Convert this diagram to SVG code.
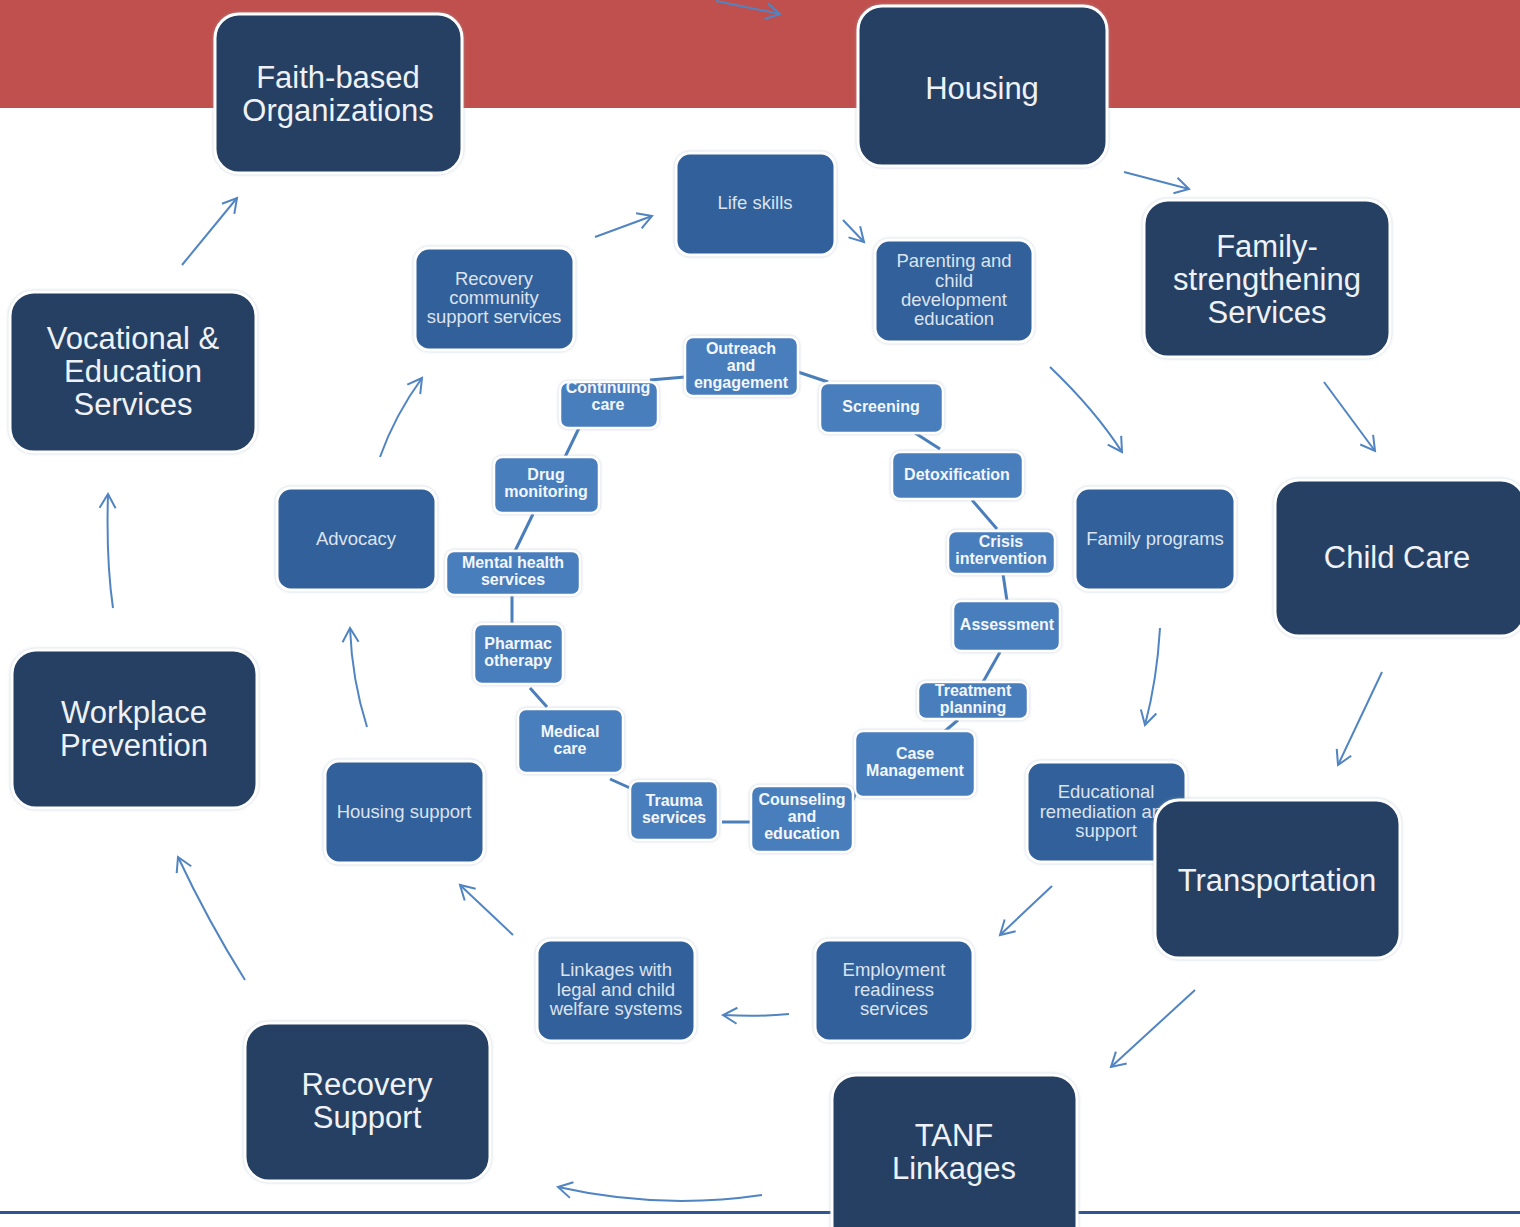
<svg xmlns="http://www.w3.org/2000/svg" width="1520" height="1227" viewBox="0 0 1520 1227">
<defs>
<style>
.outer{fill:#253F63;stroke:#fff;stroke-width:3;filter:url(#sh)}
.mid{fill:#32609A;stroke:#fff;stroke-width:3;filter:url(#sh)}
.inn{fill:#4A7EBD;stroke:#fff;stroke-width:2.5;filter:url(#sh)}
.to{font-family:"Liberation Sans",Arial,sans-serif;font-size:31px;fill:#EEF2F7;text-anchor:middle}
.tm{font-family:"Liberation Sans",Arial,sans-serif;font-size:18.5px;fill:#DCE3EE;text-anchor:middle}
.ti{font-family:"Liberation Sans",Arial,sans-serif;font-size:16px;font-weight:bold;fill:#F3F6FA;text-anchor:middle}
.arr{fill:none;stroke:#5084C2;stroke-width:2;marker-end:url(#ah)}
.lnk{fill:none;stroke:#4A7EBB;stroke-width:3}
</style>
<filter id="sh" x="-10%" y="-10%" width="120%" height="120%">
<feDropShadow dx="0" dy="0" stdDeviation="1.5" flood-color="#9AA8B8" flood-opacity="0.6"/>
</filter>
<marker id="ah" viewBox="0 0 20 20" refX="17" refY="10" markerWidth="20" markerHeight="20" markerUnits="userSpaceOnUse" orient="auto">
<path d="M3,2 L17,10 L3,18" fill="none" stroke="#5084C2" stroke-width="2"/>
</marker>
<clipPath id="ccclip"><rect x="560" y="382" width="98" height="46" rx="8"/></clipPath>
</defs>

<rect x="0" y="0" width="1520" height="1227" fill="#fff"/>
<rect x="0" y="0" width="1520" height="108" fill="#C0504D"/>
<rect x="0" y="1211" width="1520" height="3" fill="#2F5597"/>

<g id="connectors">
<path class="arr" d="M716,1 L780,14"/>
<path class="arr" d="M1124,172 L1189,189"/>
<path class="arr" d="M1324,382 L1375,451"/>
<path class="arr" d="M1382,672 L1338,765"/>
<path class="arr" d="M1195,990 L1111,1067"/>
<path class="arr" d="M762,1195 Q660,1210 558,1187"/>
<path class="arr" d="M245,980 Q208,921 178,857"/>
<path class="arr" d="M113,608 Q106,560 108,494"/>
<path class="arr" d="M182,265 L237,198"/>
<path class="arr" d="M595,237 L652,216"/>
<path class="arr" d="M843,220 L864,242"/>
<path class="arr" d="M1050,367 Q1095,410 1122,452"/>
<path class="arr" d="M1160,628 Q1157,680 1145,725"/>
<path class="arr" d="M1052,886 L1000,935"/>
<path class="arr" d="M789,1014 Q760,1017 723,1015"/>
<path class="arr" d="M513,935 L460,885"/>
<path class="arr" d="M367,727 Q352,680 350,628"/>
<path class="arr" d="M380,457 Q395,415 422,378"/>
<path class="lnk" d="M798,372 L828,382"/>
<path class="lnk" d="M915,433 L940,449"/>
<path class="lnk" d="M972,500 L997,529"/>
<path class="lnk" d="M1003,574 L1007,601"/>
<path class="lnk" d="M1000,652 L983,682"/>
<path class="lnk" d="M958,720 L945,731"/>
<path class="lnk" d="M853,800 L858,786"/>
<path class="lnk" d="M722,822 L751,822"/>
<path class="lnk" d="M610,779 L630,788"/>
<path class="lnk" d="M530,688 L547,707"/>
<path class="lnk" d="M512,596 L512,624"/>
<path class="lnk" d="M515,551 L533,514"/>
<path class="lnk" d="M565,457 L579,428"/>
<path class="lnk" d="M650,380 L685,377"/>
</g>

<g id="n-faith"><rect class="outer" x="215" y="14" width="247" height="159" rx="24"/><text class="to" x="338" y="88">Faith-based</text><text class="to" x="338" y="121">Organizations</text></g>
<g id="n-housing"><rect class="outer" x="858" y="6" width="249" height="160" rx="24"/><text class="to" x="982" y="99">Housing</text></g>
<g id="n-family"><rect class="outer" x="1144" y="200" width="246" height="157" rx="24"/><text class="to" x="1267" y="257">Family-</text><text class="to" x="1267" y="290">strengthening</text><text class="to" x="1267" y="323">Services</text></g>
<g id="n-childcare"><rect class="outer" x="1275" y="480" width="250" height="156" rx="24"/><text class="to" x="1397" y="568">Child Care</text></g>
<g id="n-educ"><rect class="mid" x="1027" y="762" width="159" height="100" rx="14"/><text class="tm" x="1106" y="798">Educational</text><text class="tm" x="1106" y="818">remediation and</text><text class="tm" x="1106" y="837">support</text></g>
<g id="n-transport"><rect class="outer" x="1155" y="800" width="245" height="158" rx="24"/><text class="to" x="1277" y="891">Transportation</text></g>
<g id="n-tanf"><rect class="outer" x="832" y="1075" width="245" height="175" rx="24"/><text class="to" x="954" y="1146">TANF</text><text class="to" x="954" y="1179">Linkages</text></g>
<g id="n-recovery"><rect class="outer" x="245" y="1023" width="245" height="158" rx="24"/><text class="to" x="367" y="1095">Recovery</text><text class="to" x="367" y="1128">Support</text></g>
<g id="n-workplace"><rect class="outer" x="12" y="650" width="245" height="158" rx="24"/><text class="to" x="134" y="723">Workplace</text><text class="to" x="134" y="756">Prevention</text></g>
<g id="n-vocational"><rect class="outer" x="10" y="292" width="246" height="160" rx="24"/><text class="to" x="133" y="349">Vocational &amp;</text><text class="to" x="133" y="382">Education</text><text class="to" x="133" y="415">Services</text></g>

<g id="n-lifeskills"><rect class="mid" x="676" y="153" width="159" height="102" rx="14"/><text class="tm" x="755" y="209">Life skills</text></g>
<g id="n-parenting"><rect class="mid" x="875" y="240" width="158" height="102" rx="14"/><text class="tm" x="954" y="267">Parenting and</text><text class="tm" x="954" y="287">child</text><text class="tm" x="954" y="306">development</text><text class="tm" x="954" y="325">education</text></g>
<g id="n-familyprog"><rect class="mid" x="1075" y="488" width="160" height="102" rx="14"/><text class="tm" x="1155" y="545">Family programs</text></g>
<g id="n-employment"><rect class="mid" x="815" y="940" width="158" height="101" rx="14"/><text class="tm" x="894" y="976">Employment</text><text class="tm" x="894" y="996">readiness</text><text class="tm" x="894" y="1015">services</text></g>
<g id="n-linkages"><rect class="mid" x="537" y="940" width="158" height="101" rx="14"/><text class="tm" x="616" y="976">Linkages with</text><text class="tm" x="616" y="996">legal and child</text><text class="tm" x="616" y="1015">welfare systems</text></g>
<g id="n-housingsupport"><rect class="mid" x="325" y="761" width="159" height="102" rx="14"/><text class="tm" x="404" y="818">Housing support</text></g>
<g id="n-advocacy"><rect class="mid" x="277" y="488" width="159" height="102" rx="14"/><text class="tm" x="356" y="545">Advocacy</text></g>
<g id="n-reccomm"><rect class="mid" x="415" y="248" width="159" height="102" rx="14"/><text class="tm" x="494" y="285">Recovery</text><text class="tm" x="494" y="304">community</text><text class="tm" x="494" y="323">support services</text></g>

<g id="n-outreach"><rect class="inn" x="685" y="337" width="113" height="59" rx="8"/><text class="ti" x="741" y="354">Outreach</text><text class="ti" x="741" y="371">and</text><text class="ti" x="741" y="388">engagement</text></g>
<g id="n-screening"><rect class="inn" x="820" y="383" width="123" height="50" rx="8"/><text class="ti" x="881" y="412">Screening</text></g>
<g id="n-detox"><rect class="inn" x="892" y="452" width="131" height="47" rx="8"/><text class="ti" x="957" y="480">Detoxification</text></g>
<g id="n-crisis"><rect class="inn" x="948" y="531" width="107" height="43" rx="8"/><text class="ti" x="1001" y="547">Crisis</text><text class="ti" x="1001" y="564">intervention</text></g>
<g id="n-assessment"><rect class="inn" x="953" y="601" width="107" height="50" rx="8"/><text class="ti" x="1007" y="630">Assessment</text></g>
<g id="n-treatment"><rect class="inn" x="918" y="682" width="110" height="37" rx="8"/><text class="ti" x="973" y="696">Treatment</text><text class="ti" x="973" y="713">planning</text></g>
<g id="n-case"><rect class="inn" x="855" y="731" width="120" height="66" rx="8"/><text class="ti" x="915" y="759">Case</text><text class="ti" x="915" y="776">Management</text></g>
<g id="n-counseling"><rect class="inn" x="751" y="786" width="102" height="66" rx="8"/><text class="ti" x="802" y="805">Counseling</text><text class="ti" x="802" y="822">and</text><text class="ti" x="802" y="839">education</text></g>
<g id="n-trauma"><rect class="inn" x="630" y="781" width="88" height="59" rx="8"/><text class="ti" x="674" y="806">Trauma</text><text class="ti" x="674" y="823">services</text></g>
<g id="n-medical"><rect class="inn" x="518" y="709" width="105" height="64" rx="8"/><text class="ti" x="570" y="737">Medical</text><text class="ti" x="570" y="754">care</text></g>
<g id="n-pharmac"><rect class="inn" x="474" y="624" width="89" height="60" rx="8"/><text class="ti" x="518" y="649">Pharmac</text><text class="ti" x="518" y="666">otherapy</text></g>
<g id="n-mental"><rect class="inn" x="446" y="551" width="134" height="44" rx="8"/><text class="ti" x="513" y="568">Mental health</text><text class="ti" x="513" y="585">services</text></g>
<g id="n-drug"><rect class="inn" x="494" y="457" width="105" height="56" rx="8"/><text class="ti" x="546" y="480">Drug</text><text class="ti" x="546" y="497">monitoring</text></g>
<g id="n-continuing"><rect class="inn" x="560" y="382" width="98" height="46" rx="8"/><g clip-path="url(#ccclip)"><text class="ti" x="608" y="393">Continuing</text><text class="ti" x="608" y="410">care</text></g></g>
</svg>
